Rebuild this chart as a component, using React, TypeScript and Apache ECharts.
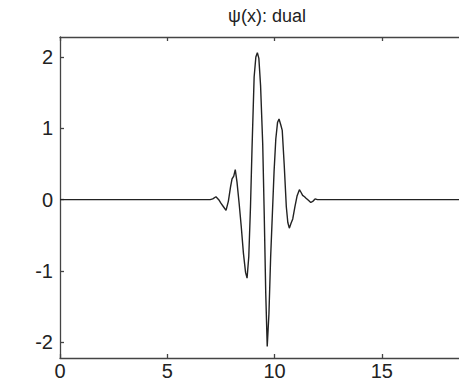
import React, { useEffect, useRef } from "react";
import * as echarts from "echarts";

const xValues = [
  0, 7.0, 7.12, 7.27, 7.4, 7.5, 7.62, 7.74, 7.85, 7.95, 8.02, 8.1, 8.17, 8.25, 8.35, 8.45, 8.55, 8.65,
  8.72, 8.8, 8.88, 8.95, 9.05, 9.13, 9.2, 9.27, 9.35, 9.45, 9.52, 9.59, 9.66, 9.74, 9.82, 9.9, 9.98,
  10.06, 10.14, 10.21, 10.29, 10.36, 10.45, 10.55, 10.62, 10.69, 10.77, 10.85, 10.95, 11.05, 11.16,
  11.24, 11.31, 11.4, 11.47, 11.58, 11.69, 11.8, 11.89, 12.0, 18.7,
];
const yValues = [
  0, 0, 0.01, 0.04, 0.0, -0.05, -0.1, -0.15, -0.02, 0.18, 0.29, 0.33, 0.42, 0.25, -0.05, -0.38, -0.75, -1.02,
  -1.1, -0.8, -0.1, 0.7, 1.72, 2.0, 2.06, 1.98, 1.6, 0.78, -0.2, -1.3, -2.06, -1.6, -0.8, -0.2, 0.4,
  0.85, 1.08, 1.13, 1.05, 0.97, 0.5, -0.1, -0.32, -0.4, -0.33, -0.27, -0.1, 0.05, 0.14,
  0.1, 0.06, 0.04, 0.02, -0.01, -0.04, -0.02, 0.01, 0, 0,
];
const xTicks = [0, 5, 10, 15];
const yTicks = [-2, -1, 0, 1, 2];
const titleText = "ψ(x): dual";

export default function App() {
  const ref = useRef<HTMLDivElement>(null);
  useEffect(() => {
    document.body.style.margin = "0";
    const chart = echarts.init(ref.current!, null, { renderer: "svg" });
    const font = "'Liberation Sans', Arial, sans-serif";
    const axisLineStyle = { color: "#444", width: 1.3 };
    chart.setOption({
      animation: false,
      backgroundColor: "#fff",
      title: {
        text: titleText,
        left: 262,
        top: 2,
        textAlign: "center",
        textStyle: { fontFamily: font, fontSize: 18, fontWeight: "normal", color: "#222" },
      },
      grid: { left: 60, right: 0, top: 37, bottom: 29, containLabel: false },
      xAxis: [
        {
          type: "value",
          position: "bottom",
          min: 0,
          max: 18.6,
          axisLine: { show: true, onZero: false, lineStyle: axisLineStyle },
          axisTick: { show: true, inside: true, length: 4, customValues: xTicks, lineStyle: axisLineStyle },
          axisLabel: { customValues: xTicks, margin: 3, fontFamily: font, fontSize: 20, color: "#222" },
          splitLine: { show: false },
        },
        {
          type: "value",
          position: "top",
          min: 0,
          max: 18.6,
          axisLine: { show: true, onZero: false, lineStyle: axisLineStyle },
          axisTick: { show: true, inside: true, length: 4, customValues: xTicks, lineStyle: axisLineStyle },
          axisLabel: { show: false },
          splitLine: { show: false },
        },
      ],
      yAxis: {
        type: "value",
        min: -2.22,
        max: 2.28,
        axisLine: { show: true, onZero: false, lineStyle: axisLineStyle },
        axisTick: { show: true, inside: true, length: 4, customValues: yTicks, lineStyle: axisLineStyle },
        axisLabel: { customValues: yTicks, margin: 7, fontFamily: font, fontSize: 20, color: "#222" },
        splitLine: { show: false },
      },
      series: [
        {
          type: "line",
          xAxisIndex: 0,
          data: xValues.map((x, i) => [x, yValues[i]]),
          showSymbol: false,
          lineStyle: { color: "#222", width: 1.4 },
        },
      ],
    });
    return () => chart.dispose();
  }, []);
  return <div ref={ref} style={{ width: 459, height: 387 }} />;
}
